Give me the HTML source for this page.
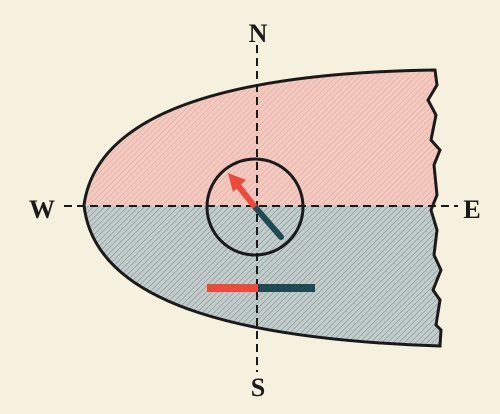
<!DOCTYPE html>
<html><head><meta charset="utf-8"><style>
html,body{margin:0;padding:0;background:#f6f1de;}
svg{display:block;}
text{font-family:"Liberation Serif",serif;font-weight:bold;fill:#1a1a1a;}
</style></head><body>
<svg width="500" height="414" viewBox="0 0 500 414">
<defs>
<pattern id="hp" width="4" height="4" patternUnits="userSpaceOnUse" patternTransform="rotate(45)">
<rect width="4" height="4" fill="#f4c9bf"/><line x1="0" y1="0" x2="0" y2="4" stroke="#d9a79c" stroke-width="1"/></pattern>
<pattern id="hb" width="4" height="4" patternUnits="userSpaceOnUse" patternTransform="rotate(45)">
<rect width="4" height="4" fill="#c3cdcc"/><line x1="0" y1="0" x2="0" y2="4" stroke="#7f8f92" stroke-width="1.2"/></pattern>
<clipPath id="top"><rect x="0" y="0" width="500" height="206"/></clipPath>
<clipPath id="bot"><rect x="0" y="206" width="500" height="300"/></clipPath>
</defs>
<path id="shape" d="M435,70 C300,72 100,90 84,205 C95,310 260,340 440,346 L441,330 L436,325 L440,300 L433,290 L441,270 L434,255 L437,230 L431,210 L437,195 L434,165 L440,150 L431,140 L436,115 L428,100 L437,85 Z" fill="url(#hp)" clip-path="url(#top)"/>
<path d="M435,70 C300,72 100,90 84,205 C95,310 260,340 440,346 L441,330 L436,325 L440,300 L433,290 L441,270 L434,255 L437,230 L431,210 L437,195 L434,165 L440,150 L431,140 L436,115 L428,100 L437,85 Z" fill="url(#hb)" clip-path="url(#bot)"/>
<path d="M435,70 C300,72 100,90 84,205 C95,310 260,340 440,346 L441,330 L436,325 L440,300 L433,290 L441,270 L434,255 L437,230 L431,210 L437,195 L434,165 L440,150 L431,140 L436,115 L428,100 L437,85 Z" fill="none" stroke="#1a1a1a" stroke-width="3"/>
<line x1="64" y1="206" x2="458" y2="206" stroke="#1a1a1a" stroke-width="2" stroke-dasharray="8,5"/>
<line x1="257" y1="45" x2="257" y2="372" stroke="#1a1a1a" stroke-width="2" stroke-dasharray="8,5"/>
<circle cx="255" cy="207" r="48" fill="none" stroke="#1a1a1a" stroke-width="3"/>
<line x1="255" y1="207" x2="281" y2="237" stroke="#1f4a52" stroke-width="6" stroke-linecap="round"/>
<line x1="255" y1="207" x2="236" y2="183" stroke="#ee4a3a" stroke-width="6"/>
<polygon points="228,173 246,180 233,192" fill="#ee4a3a"/>
<rect x="207" y="284" width="51" height="8" fill="#ee4a3a"/>
<rect x="258" y="284" width="57" height="8" fill="#1f4a52"/>
<text x="258" y="42" font-size="26" text-anchor="middle">N</text>
<text x="258" y="396" font-size="26" text-anchor="middle">S</text>
<text x="42" y="218" font-size="26" text-anchor="middle">W</text>
<text x="472" y="218" font-size="26" text-anchor="middle">E</text>
</svg>
</body></html>
